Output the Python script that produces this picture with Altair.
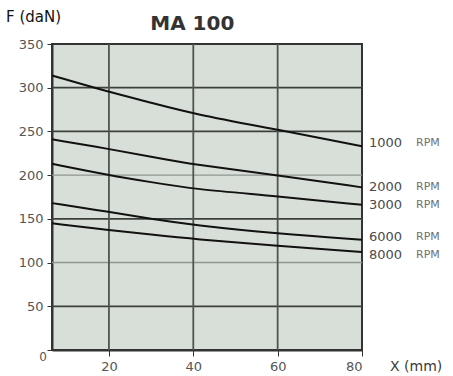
import altair as alt
import pandas as pd

x_pts = [6.5, 20, 30, 40, 60, 80]
rpm_labels = ["1000 RPM", "2000 RPM", "3000 RPM", "6000 RPM", "8000 RPM"]
f_1000 = [314, 295, 283, 270, 252, 233]
f_2000 = [241, 230, 221, 212, 200, 186]
f_3000 = [213, 200, 192, 184, 176, 166]
f_6000 = [168, 158, 150, 143, 133, 126]
f_8000 = [145, 137, 132, 127, 119, 112]
y_ticks = [0, 50, 100, 150, 200, 250, 300, 350]
x_ticks = [20, 40, 60, 80]
grid_dark = [50, 150, 250, 300]
grid_light = [100, 200]
x_grid = [20, 40, 60]

series = [f_1000, f_2000, f_3000, f_6000, f_8000]
rows = []
for lab, vals in zip(rpm_labels, series):
    for xv, fv in zip(x_pts, vals):
        rows.append({"x": xv, "F": fv, "rpm": lab})
df = pd.DataFrame(rows)
ends = df[df["x"] == x_pts[-1]].copy()
ends["num"] = ends["rpm"].str.split(" ").str[0]
ends["unit"] = ends["rpm"].str.split(" ").str[1]

XMIN, XMAX = 6.5, 80
xs = alt.Scale(domain=[XMIN, XMAX], nice=False, zero=False)
ys = alt.Scale(domain=[0, 350], nice=False)

LABEL_FONT = "DejaVu Sans"

hdark = alt.Chart(pd.DataFrame({"y": grid_dark})).mark_rule(color="#3c403c", strokeWidth=1.8).encode(
    y=alt.Y("y:Q", scale=ys))
hlight = alt.Chart(pd.DataFrame({"y": grid_light})).mark_rule(color="#8f958f", strokeWidth=1.4).encode(
    y=alt.Y("y:Q", scale=ys))
vgrid = alt.Chart(pd.DataFrame({"x": x_grid})).mark_rule(color="#4f544f", strokeWidth=1.8).encode(
    x=alt.X("x:Q", scale=xs))

lines = alt.Chart(df).mark_line(color="#111111", strokeWidth=2, interpolate="basis", clip=False).encode(
    x=alt.X("x:Q", scale=xs,
            axis=alt.Axis(values=x_ticks, title=None, grid=False, labelColor="#555555",
                          labelFontSize=13, labelFont=LABEL_FONT, tickColor="#333333",
                          tickSize=6, domainColor="#333333", domainWidth=2, labelPadding=4)),
    y=alt.Y("F:Q", scale=ys,
            axis=alt.Axis(values=y_ticks, title=None, grid=False, labelColor="#555555",
                          labelFontSize=13, labelFont=LABEL_FONT, tickColor="#333333",
                          tickSize=5, domainColor="#333333", domainWidth=2, labelPadding=4,
                          labelExpr="datum.value == 0 ? '' : datum.label")),
    detail="rpm:N",
)

def end_labels(filter_expr, dy):
    b = alt.Chart(ends).transform_filter(filter_expr)
    num = b.mark_text(align="left", baseline="middle", dx=7, dy=dy, fontSize=13,
                      font=LABEL_FONT, color="#4a4a4a").encode(
        x=alt.X("x:Q", scale=xs), y=alt.Y("F:Q", scale=ys), text="num:N")
    unit = b.mark_text(align="left", baseline="middle", dx=54, dy=dy, fontSize=11,
                       font=LABEL_FONT, color="#707070").encode(
        x=alt.X("x:Q", scale=xs), y=alt.Y("F:Q", scale=ys), text="unit:N")
    return [num, unit]

labs = []
labs += end_labels("datum.num == '1000'", -3)
labs += end_labels("datum.num == '2000' || datum.num == '3000'", 0)
labs += end_labels("datum.num == '6000'", -3)
labs += end_labels("datum.num == '8000'", 3)

zero_lab = alt.Chart(pd.DataFrame({"x": [XMIN], "y": [0], "t": ["0"]})).mark_text(
    align="center", baseline="middle", dx=-9, dy=7, fontSize=12, font=LABEL_FONT, color="#555555").encode(
    x=alt.X("x:Q", scale=xs), y=alt.Y("y:Q", scale=ys), text="t:N")

xtitle = alt.Chart(pd.DataFrame({"x": [XMAX], "y": [0], "t": ["X  (mm)"]})).mark_text(
    align="left", baseline="middle", dx=28, dy=17, fontSize=14, font=LABEL_FONT, color="#3a3a3a").encode(
    x=alt.X("x:Q", scale=xs), y=alt.Y("y:Q", scale=ys), text="t:N")

ytitle = alt.Chart(pd.DataFrame({"x": [XMIN], "y": [350], "t": ["F (daN)"]})).mark_text(
    align="left", baseline="alphabetic", dx=-46, dy=-22, fontSize=15, font=LABEL_FONT, color="#111111").encode(
    x=alt.X("x:Q", scale=xs), y=alt.Y("y:Q", scale=ys), text="t:N")

title = alt.Chart(pd.DataFrame({"x": [40], "y": [350], "t": ["MA  100"]})).mark_text(
    align="center", baseline="alphabetic", dx=-1, dy=-14, fontSize=20, fontWeight="bold",
    font=LABEL_FONT, color="#333333").encode(
    x=alt.X("x:Q", scale=xs), y=alt.Y("y:Q", scale=ys), text="t:N")

chart = alt.layer(hlight, hdark, vgrid, lines, *labs, zero_lab, xtitle, ytitle, title).properties(
    width=310, height=306,
    padding={"left": 52, "top": 44, "right": 91, "bottom": 26},
    autosize="none",
    background="white",
).configure_view(
    fill="#d8dfd8", stroke="#333333", strokeWidth=2
)

chart.save("out.html", embed_options={"renderer": "svg", "actions": False})
